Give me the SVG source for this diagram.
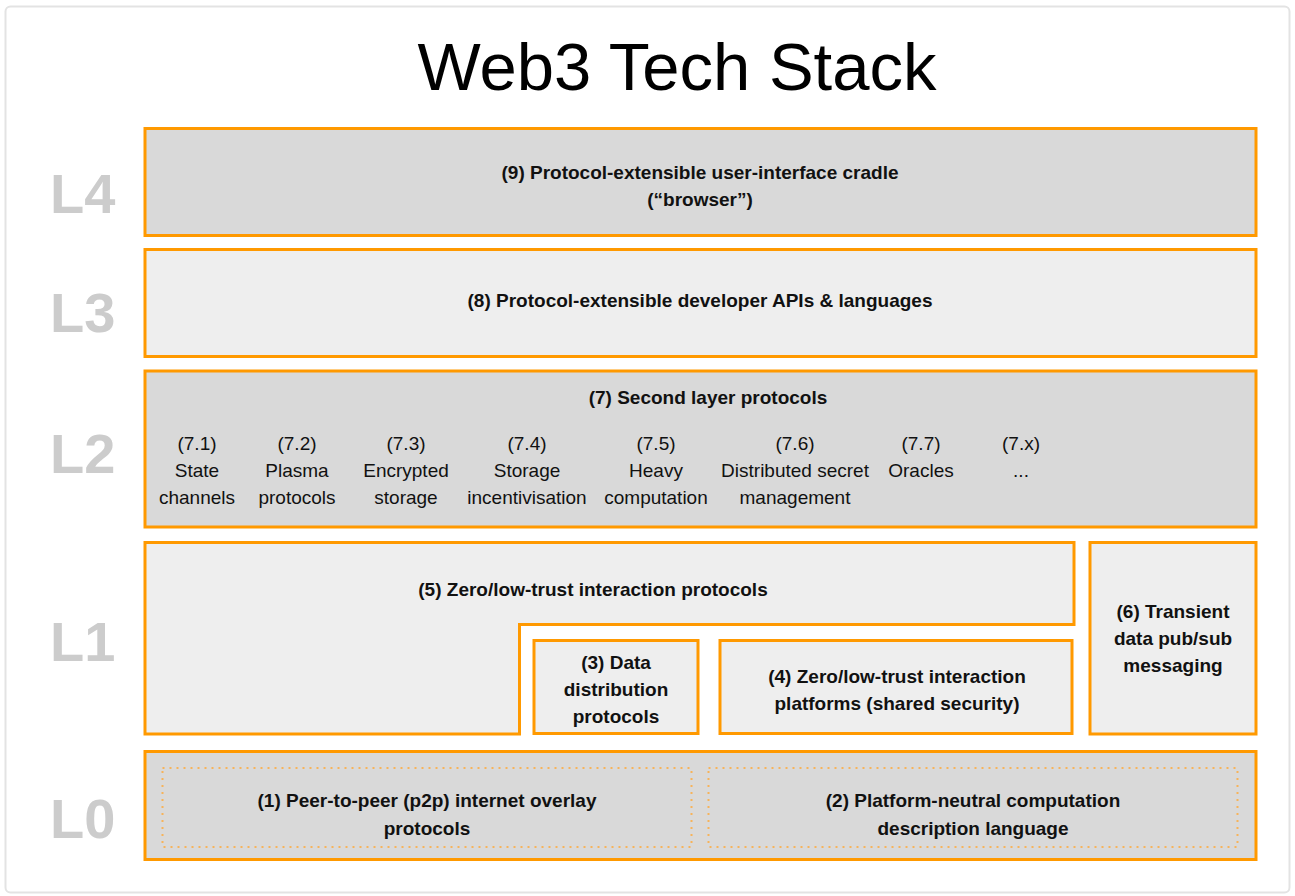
<svg xmlns="http://www.w3.org/2000/svg" width="1295" height="896" viewBox="0 0 1295 896">
  <style>
    .box { stroke: #ff9900; stroke-width: 3; stroke-linejoin: miter; }
    .dark { fill: #d9d9d9; }
    .light { fill: #eeeeee; }
    .dotted { fill: none; stroke: #f7b35a; stroke-width: 2; stroke-dasharray: 2 5; }
    .lvl { font-family: "Liberation Sans", Arial, sans-serif; font-weight: bold; font-size: 56px; fill: #cccccc; }
    .lbl { font-family: "Liberation Sans", Arial, sans-serif; font-weight: bold; font-size: 19px; fill: #111111; text-anchor: middle; }
    .sub { font-family: "Liberation Sans", Arial, sans-serif; font-size: 19px; fill: #111111; text-anchor: middle; }
    .title { font-family: "Liberation Sans", Arial, sans-serif; font-size: 67px; fill: #000000; text-anchor: middle; }
  </style>

  <!-- page background and frame -->
  <rect x="0" y="0" width="1295" height="896" fill="#ffffff"/>
  <rect x="5.5" y="6.5" width="1284" height="886" rx="5" fill="#ffffff" stroke="#e3e3e3" stroke-width="2"/>

  <text class="title" x="677" y="90">Web3 Tech Stack</text>

  <!-- layer labels -->
  <g id="levels">
    <text class="lvl" x="50" y="213">L4</text>
    <text class="lvl" x="50" y="332">L3</text>
    <text class="lvl" x="50" y="473">L2</text>
    <text class="lvl" x="50" y="661">L1</text>
    <text class="lvl" x="50" y="838">L0</text>
  </g>

  <g id="n9">
    <rect class="box dark" x="145" y="128.5" width="1111" height="107"/>
    <text class="lbl" x="700" y="179">(9) Protocol-extensible user-interface cradle</text>
    <text class="lbl" x="700" y="206">(“browser”)</text>
  </g>

  <g id="n8">
    <rect class="box light" x="145" y="249.5" width="1111" height="107"/>
    <text class="lbl" x="700" y="307">(8) Protocol-extensible developer APIs &amp; languages</text>
  </g>

  <g id="n7">
    <rect class="box dark" x="145" y="371" width="1111" height="156"/>
    <text class="lbl" x="708" y="404">(7) Second layer protocols</text>
    <text class="sub" x="197" y="450">(7.1)</text>
    <text class="sub" x="197" y="477">State</text>
    <text class="sub" x="197" y="504">channels</text>
    <text class="sub" x="297" y="450">(7.2)</text>
    <text class="sub" x="297" y="477">Plasma</text>
    <text class="sub" x="297" y="504">protocols</text>
    <text class="sub" x="406" y="450">(7.3)</text>
    <text class="sub" x="406" y="477">Encrypted</text>
    <text class="sub" x="406" y="504">storage</text>
    <text class="sub" x="527" y="450">(7.4)</text>
    <text class="sub" x="527" y="477">Storage</text>
    <text class="sub" x="527" y="504">incentivisation</text>
    <text class="sub" x="656" y="450">(7.5)</text>
    <text class="sub" x="656" y="477">Heavy</text>
    <text class="sub" x="656" y="504">computation</text>
    <text class="sub" x="795" y="450">(7.6)</text>
    <text class="sub" x="795" y="477">Distributed secret</text>
    <text class="sub" x="795" y="504">management</text>
    <text class="sub" x="921" y="450">(7.7)</text>
    <text class="sub" x="921" y="477">Oracles</text>
    <text class="sub" x="1021" y="450">(7.x)</text>
    <text class="sub" x="1021" y="477">...</text>
  </g>

  <g id="n5">
    <path class="box light" d="M145,542.5 H1074 V624.5 H519.5 V734 H145 Z"/>
    <text class="lbl" x="593" y="596">(5) Zero/low-trust interaction protocols</text>
  </g>

  <g id="n3">
    <rect class="box light" x="534" y="640.5" width="164" height="93"/>
    <text class="lbl" x="616" y="669">(3) Data</text>
    <text class="lbl" x="616" y="696">distribution</text>
    <text class="lbl" x="616" y="723">protocols</text>
  </g>

  <g id="n4">
    <rect class="box light" x="720" y="640.5" width="352" height="93"/>
    <text class="lbl" x="897" y="683">(4) Zero/low-trust interaction</text>
    <text class="lbl" x="897" y="710">platforms (shared security)</text>
  </g>

  <g id="n6">
    <rect class="box light" x="1090" y="542.5" width="166" height="191.5"/>
    <text class="lbl" x="1173" y="618">(6) Transient</text>
    <text class="lbl" x="1173" y="645">data pub/sub</text>
    <text class="lbl" x="1173" y="672">messaging</text>
  </g>

  <g id="l0">
    <rect class="box dark" x="145" y="751.5" width="1111" height="108"/>
  </g>

  <g id="n1">
    <rect class="dotted" x="162.5" y="768" width="529" height="79"/>
    <text class="lbl" x="427" y="807">(1) Peer-to-peer (p2p) internet overlay</text>
    <text class="lbl" x="427" y="835">protocols</text>
  </g>

  <g id="n2">
    <rect class="dotted" x="708.5" y="768" width="529" height="79"/>
    <text class="lbl" x="973" y="807">(2) Platform-neutral computation</text>
    <text class="lbl" x="973" y="835">description language</text>
  </g>

  <!-- no connectors in this diagram -->
  <g id="connectors"/>
</svg>
